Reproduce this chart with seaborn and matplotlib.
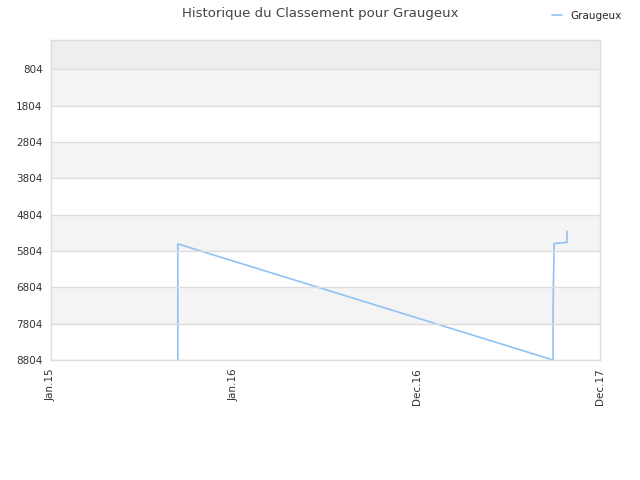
import numpy as np
import pandas as pd
import matplotlib
matplotlib.use("Agg")
import matplotlib.pyplot as plt
import matplotlib.dates as mdates
import seaborn as sns

sns.set_style("white")
plt.rcParams['font.family'] = ['DejaVu Sans']

# données
dates = ['2015-09-04', '2015-09-04', '2017-09-01', '2017-09-01',
         '2017-09-03', '2017-09-27', '2017-09-28', '2017-09-28']
ranks = [8804, 5610, 8804, 7350, 5600, 5570, 5570, 5260]
tick_labels = ['Jan.15', 'Jan.16', 'Dec.16', 'Dec.17']
y_ticks = [804, 1804, 2804, 3804, 4804, 5804, 6804, 7804, 8804]

df = pd.DataFrame({'date': pd.to_datetime(dates), 'rank': ranks})

fig = plt.figure(figsize=(6.4, 4.8), dpi=100)
ax = fig.add_axes([51 / 640, 1 - 360 / 480, 549 / 640, 320 / 480])

# bandes alternées
ax.axhspan(0, 804, color='#eeeeee', zorder=0, lw=0)
for i, lo in enumerate(y_ticks[:-1]):
    col = '#f4f4f4' if i % 2 == 0 else 'white'
    ax.axhspan(lo, lo + 1000, color=col, zorder=0, lw=0)

sns.lineplot(data=df, x='date', y='rank', estimator=None, sort=False,
             color='#90c2f5', lw=1.2, ax=ax, label='Graugeux')

x0 = mdates.date2num(pd.Timestamp('2015-01-01'))
x1 = mdates.date2num(pd.Timestamp('2017-12-01'))
ax.set_xlim(x0, x1)
ax.set_ylim(8804, 0)
ax.set_xticks(np.linspace(x0, x1, 4))
ax.set_xticklabels(tick_labels, rotation=90, fontsize=7.5, color='#333333')
ax.set_yticks(y_ticks)
ax.set_yticklabels([str(v) for v in y_ticks], fontsize=7.5, color='#333333')
ax.tick_params(length=0, pad=6)
ax.set_xlabel('')
ax.set_ylabel('')
ax.grid(axis='y', color='#dddddd', lw=1)
ax.set_axisbelow(False)
for s in ax.spines.values():
    s.set_color('#dddddd')
    s.set_linewidth(1)

fig.suptitle('Historique du Classement pour Graugeux', fontsize=9.5,
             color='#444444', y=0.985)
ax.legend(loc='upper right', bbox_to_anchor=(1.047, 1.105), frameon=False,
          fontsize=7.5, handlelength=1.0, borderaxespad=0)

fig.savefig('out.png', dpi=100)
